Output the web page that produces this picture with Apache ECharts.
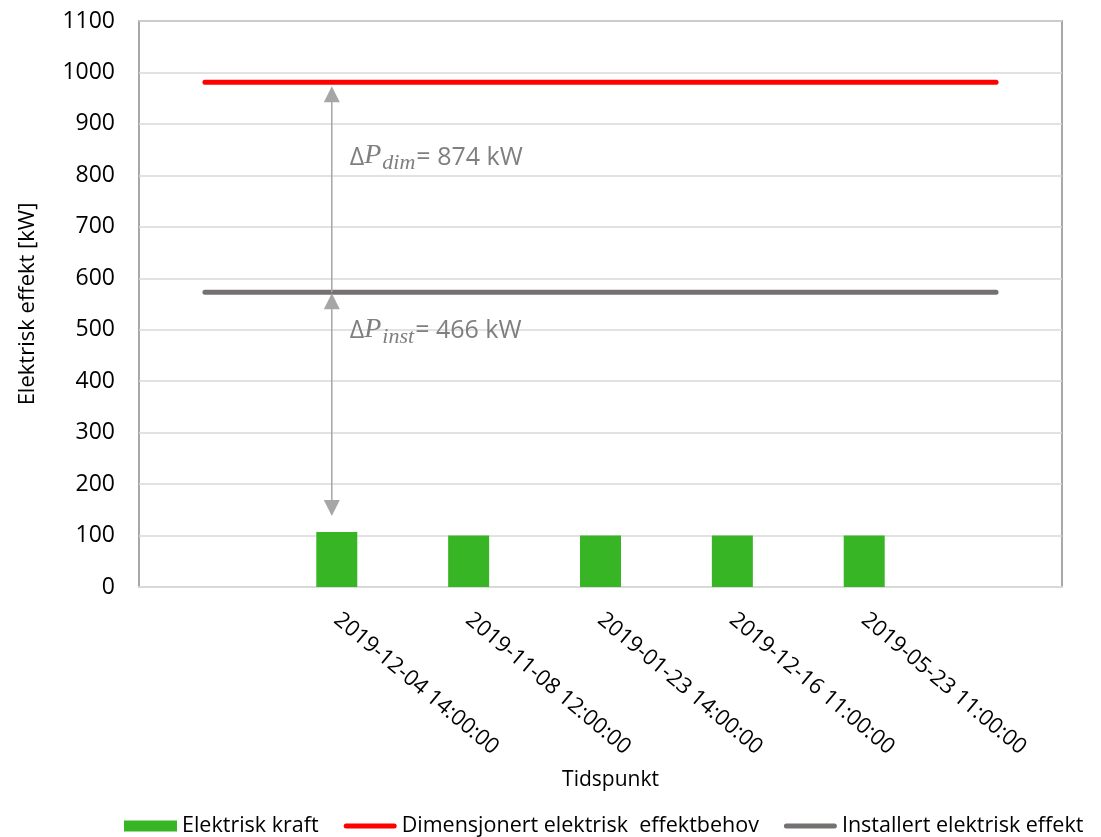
<!DOCTYPE html>
<html>
<head>
<meta charset="utf-8">
<script src="https://cdn.jsdelivr.net/npm/echarts@6/dist/echarts.min.js"></script>
<style>
  html, body { margin: 0; padding: 0; background: #ffffff; }
  #chart { width: 1101px; height: 837px; }
</style>
</head>
<body>
<div id="chart"></div>
<script>
// ---- data ----
const categories = ['', '2019-12-04 14:00:00', '2019-11-08 12:00:00', '2019-01-23 14:00:00', '2019-12-16 11:00:00', '2019-05-23 11:00:00', ''];
const elektriskKraft = [null, 107, 100, 100, 100, 100, null];
const dimensjonertEffekt = [981, 981, 981, 981, 981, 981, 981];
const installertEffekt = [573, 573, 573, 573, 573, 573, 573];
const seriesNames = ['Elektrisk kraft', 'Dimensjonert elektrisk  effektbehov', 'Installert elektrisk effekt'];
const yMin = 0, yMax = 1100, yStep = 100;

const FONT = '"Open Sans", "Noto Sans", sans-serif';
const LINE_ICON = 'path://M2.5,0 L50.5,0 A2.5,2.5 0 0 1 50.5,5 L2.5,5 A2.5,2.5 0 0 1 2.5,0 Z';
const chart = echarts.init(document.getElementById('chart'), null, { renderer: 'canvas' });

const option = {
  backgroundColor: '#ffffff',
  animation: false,
  grid: {
    left: 139, right: 39, top: 21, bottom: 250,
    show: true, borderColor: '#8c8c8c', borderWidth: 1.5,
    containLabel: false, outerBoundsMode: 'none'
  },
  legend: {
    left: 124, bottom: 0, padding: 0, width: 977,
    itemWidth: 53, itemHeight: 11, itemGap: 25,
    textStyle: { fontFamily: FONT, fontSize: 21.5, color: '#000000' },
    data: [
      { name: seriesNames[0], icon: 'rect' },
      { name: seriesNames[1], icon: LINE_ICON },
      { name: seriesNames[2], icon: LINE_ICON }
    ]
  },
  xAxis: {
    type: 'category',
    data: categories,
    boundaryGap: true,
    name: 'Tidspunkt',
    nameLocation: 'middle',
    nameGap: 183,
    nameTextStyle: { fontFamily: FONT, fontSize: 21, color: '#000000', padding: [0, 0, 0, 20] },
    axisTick: { show: false },
    axisLine: { show: true, lineStyle: { color: '#d9d9d9', width: 2 } },
    axisLabel: { interval: 0, rotate: -40, margin: 30, fontFamily: FONT, fontSize: 22, color: '#000000' },
    splitLine: { show: false }
  },
  yAxis: {
    type: 'value',
    min: yMin, max: yMax, interval: yStep,
    name: 'Elektrisk effekt [kW]',
    nameLocation: 'middle',
    nameGap: 100,
    nameTextStyle: { fontFamily: FONT, fontSize: 22, color: '#000000' },
    axisLine: { show: false },
    axisTick: { show: false },
    axisLabel: { margin: 24, fontFamily: FONT, fontSize: 23, color: '#000000', formatter: v => String(v) },
    splitLine: { show: true, lineStyle: { color: '#d9d9d9', width: 1.5 } }
  },
  series: [
    {
      name: seriesNames[0],
      type: 'bar',
      data: elektriskKraft,
      barWidth: 41,
      itemStyle: { color: '#38b524' },
      z: 2
    },
    {
      name: seriesNames[1],
      type: 'line',
      data: dimensjonertEffekt,
      symbol: 'none',
      lineStyle: { color: '#ff0000', width: 5, cap: 'round' },
      itemStyle: { color: '#ff0000' },
      z: 3
    },
    {
      name: seriesNames[2],
      type: 'line',
      data: installertEffekt,
      symbol: 'none',
      lineStyle: { color: '#767171', width: 5, cap: 'round' },
      itemStyle: { color: '#767171' },
      z: 3
    }
  ]
};
chart.setOption(option);

// ---- annotations (positions derived from the data through the axes) ----
function annotate() {
  const px = (i, v) => chart.convertToPixel({ xAxisIndex: 0, yAxisIndex: 0 }, [i, v]);
  const idx = 1;
  const base = elektriskKraft[idx];
  const dimVal = dimensjonertEffekt[idx];
  const instVal = installertEffekt[idx];
  const [xc, yRed] = px(idx, dimVal);
  const [, yGray] = px(idx, instVal);
  const [, yBar] = px(idx, base);
  const ax = xc - 5;
  const arrowColor = '#a6a6a6';
  const headL = 16, headW = 8;
  const els = [];
  // upper arrow (single head up)
  const t1 = yRed + 4;
  els.push({ type: 'polygon', shape: { points: [[ax, t1], [ax - headW, t1 + headL], [ax + headW, t1 + headL]] }, style: { fill: arrowColor }, z: 10 });
  els.push({ type: 'line', shape: { x1: ax, y1: t1 + headL - 1, x2: ax, y2: yGray }, style: { stroke: arrowColor, lineWidth: 1.5 }, z: 10 });
  // lower arrow (double head)
  const t2 = yGray + 1;
  const t3 = yBar - 16;
  els.push({ type: 'polygon', shape: { points: [[ax, t2], [ax - headW, t2 + headL], [ax + headW, t2 + headL]] }, style: { fill: arrowColor }, z: 10 });
  els.push({ type: 'polygon', shape: { points: [[ax, t3], [ax - headW, t3 - headL], [ax + headW, t3 - headL]] }, style: { fill: arrowColor }, z: 10 });
  els.push({ type: 'line', shape: { x1: ax, y1: t2 + headL - 1, x2: ax, y2: t3 - headL + 1 }, style: { stroke: arrowColor, lineWidth: 1.5 }, z: 10 });

  const grey = '#7f7f7f';
  const rich = {
    d: { fontFamily: FONT, fontSize: 25, fill: grey, lineHeight: 30, verticalAlign: 'bottom', padding: [0, 0, 4, 0] },
    p: { fontFamily: '"Liberation Serif", "DejaVu Serif", serif', fontStyle: 'italic', fontSize: 28, fill: grey, lineHeight: 30, verticalAlign: 'bottom', padding: [0, 0, 4, 0] },
    s: { fontFamily: '"Liberation Serif", "DejaVu Serif", serif', fontStyle: 'italic', fontSize: 22, fill: grey, lineHeight: 22, verticalAlign: 'bottom', padding: [0, 1, 0, 1] },
    n: { fontFamily: FONT, fontSize: 25, fill: grey, lineHeight: 30, verticalAlign: 'bottom', padding: [0, 0, 4, 0] }
  };
  const dimDiff = dimVal - base;
  const instDiff = instVal - base;
  const [, yT1] = px(idx, 832);
  const [, yT2] = px(idx, 494);
  els.push({ type: 'text', x: ax + 18, y: yT1, style: { text: '{d|Δ}{p|P}{s|dim}{n|= ' + dimDiff + ' kW}', rich: rich, verticalAlign: 'middle', align: 'left' }, z: 11 });
  els.push({ type: 'text', x: ax + 18, y: yT2, style: { text: '{d|Δ}{p|P}{s|inst}{n|= ' + instDiff + ' kW}', rich: rich, verticalAlign: 'middle', align: 'left' }, z: 11 });
  chart.setOption({ graphic: { elements: els } });
}
annotate();
</script>
</body>
</html>
